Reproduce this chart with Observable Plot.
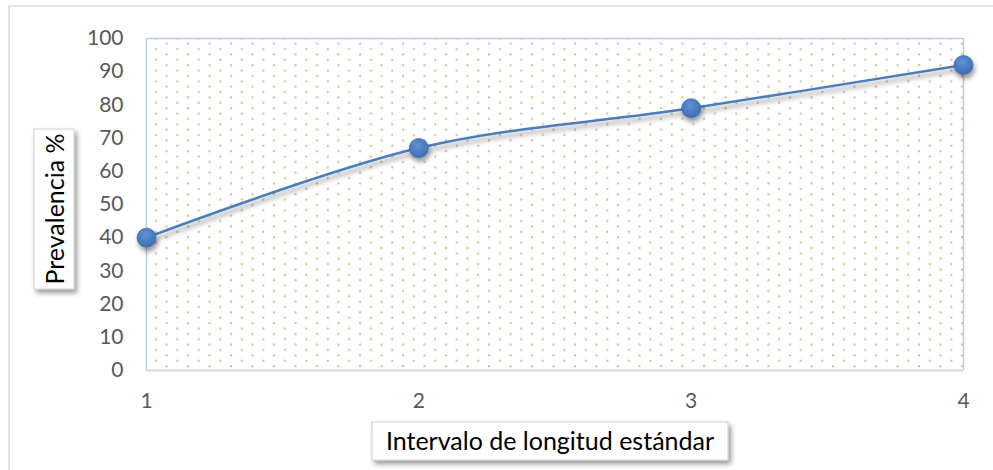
<!DOCTYPE html>
<html>
<head>
<meta charset="utf-8">
<script src="https://cdn.jsdelivr.net/npm/d3@7"></script>
<script src="https://cdn.jsdelivr.net/npm/@observablehq/plot@0.6"></script>
<style>
  html, body { margin: 0; padding: 0; background: #fff; }
  #chart { width: 993px; height: 470px; overflow: hidden; }
</style>
</head>
<body>
<div id="chart"></div>
<script>
// ---- data ----
const intervals = [1, 2, 3, 4];
const prevalence = [40, 67, 79, 92];
const yTicks = [0, 10, 20, 30, 40, 50, 60, 70, 80, 90, 100];
const xTicks = [1, 2, 3, 4];
const xTitle = "Intervalo de longitud estándar";
const yTitle = "Prevalencia %";

const data = intervals.map((x, i) => ({x, y: prevalence[i]}));
const FONT = "Lato, 'Open Sans', sans-serif";

// background: outer border, defs, dotted plot area
function background(index, scales, values, dims) {
  const g = d3.create("svg:g");
  const defs = g.append("defs");
  const x0 = scales.x(1), x1 = scales.x(4), yTop = scales.y(100), yBot = scales.y(0);
  const pat = defs.append("pattern").attr("id", "dots")
    .attr("patternUnits", "userSpaceOnUse")
    .attr("width", 21.5).attr("height", 10.75)
    .attr("x", x0 + 4.8).attr("y", yTop - 2.4);
  pat.append("circle").attr("cx", 5).attr("cy", 2.7).attr("r", 1.15).attr("fill", "#cdc49d");
  pat.append("circle").attr("cx", 15.75).attr("cy", 8.1).attr("r", 1.15).attr("fill", "#cdc49d");

  const grad = defs.append("radialGradient").attr("id", "markerGrad")
    .attr("cx", "45%").attr("cy", "35%").attr("r", "70%");
  grad.append("stop").attr("offset", "0%").attr("stop-color", "#5f93d6");
  grad.append("stop").attr("offset", "100%").attr("stop-color", "#3a6aad");

  const sh = defs.append("filter").attr("id", "shadow")
    .attr("x", "-20%").attr("y", "-20%").attr("width", "140%").attr("height", "160%");
  sh.append("feDropShadow").attr("dx", 1.5).attr("dy", 4).attr("stdDeviation", 2.4)
    .attr("flood-color", "#000").attr("flood-opacity", 0.4);

  const bs = defs.append("filter").attr("id", "boxShadow")
    .attr("x", "-20%").attr("y", "-20%").attr("width", "150%").attr("height", "150%");
  bs.append("feDropShadow").attr("dx", 2.5).attr("dy", 3.5).attr("stdDeviation", 2.5)
    .attr("flood-color", "#000").attr("flood-opacity", 0.4);

  // outer chart border
  g.append("rect").attr("x", 9).attr("y", 6)
    .attr("width", dims.width + 20).attr("height", dims.height + 20)
    .attr("fill", "none").attr("stroke", "#d9d9d9").attr("stroke-width", 1.5);

  // plot area
  g.append("rect").attr("x", x0).attr("y", yTop)
    .attr("width", x1 - x0).attr("height", yBot - yTop)
    .attr("fill", "url(#dots)");
  return g.node();
}

// axis title boxes
function titleBoxes(index, scales, values, dims) {
  const g = d3.create("svg:g");
  // y title (rotated)
  const yb = {x: 34, y: 129, w: 40, h: 160};
  g.append("rect").attr("x", yb.x).attr("y", yb.y).attr("width", yb.w).attr("height", yb.h)
    .attr("fill", "#fff").attr("stroke", "#d0d0d0").attr("stroke-width", 1)
    .attr("filter", "url(#boxShadow)");
  g.append("text")
    .attr("transform", `translate(${yb.x + yb.w / 2 + 1},${yb.y + yb.h / 2}) rotate(-90)`)
    .attr("text-anchor", "middle").attr("dy", "0.35em")
    .attr("font-family", FONT).attr("font-size", 25).attr("fill", "#000")
    .text(yTitle);
  // x title
  const xb = {x: 372, y: 422, w: 356, h: 38};
  g.append("rect").attr("x", xb.x).attr("y", xb.y).attr("width", xb.w).attr("height", xb.h)
    .attr("fill", "#fff").attr("stroke", "#d0d0d0").attr("stroke-width", 1)
    .attr("filter", "url(#boxShadow)");
  g.append("text")
    .attr("x", xb.x + xb.w / 2).attr("y", xb.y + xb.h / 2)
    .attr("text-anchor", "middle").attr("dy", "0.35em")
    .attr("font-family", FONT).attr("font-size", 25).attr("fill", "#000")
    .text(xTitle);
  return g.node();
}

const plot = Plot.plot({
  width: 993,
  height: 470,
  marginLeft: 146,
  marginRight: 30,
  marginTop: 38,
  marginBottom: 100,
  style: {fontFamily: FONT, fontSize: "20px", color: "#595959", background: "transparent", overflow: "visible"},
  x: {domain: [1, 4], axis: null},
  y: {domain: [0, 100], axis: null},
  marks: [
    background,
    Plot.axisX({ticks: xTicks, tickFormat: d3.format("d"), tickSize: 0, tickPadding: 23, label: null, fill: "#595959", fontSize: 21}),
    Plot.axisY({ticks: yTicks, tickFormat: d3.format("d"), tickSize: 0, tickPadding: 23, label: null, fill: "#595959", fontSize: 21}),
    Plot.ruleX([1, 4], {stroke: "#b9cbe6", strokeWidth: 1.5}),
    Plot.ruleY([100], {stroke: "#b9cbe6", strokeWidth: 1.5}),
    Plot.ruleY([0], {stroke: "#d9d9d9", strokeWidth: 2}),
    Plot.line(data, {x: "x", y: "y", curve: "catmull-rom", stroke: "#4a7ebb", strokeWidth: 2.5}),
    Plot.dot(data, {x: "x", y: "y", r: 9.5, fill: "url(#markerGrad)", stroke: "#3d6fb3", strokeWidth: 0.8}),
    titleBoxes
  ]
});

d3.select(plot).selectAll('g[aria-label="line"], g[aria-label="dot"]').attr("filter", "url(#shadow)");
document.getElementById("chart").appendChild(plot);
</script>
</body>
</html>
